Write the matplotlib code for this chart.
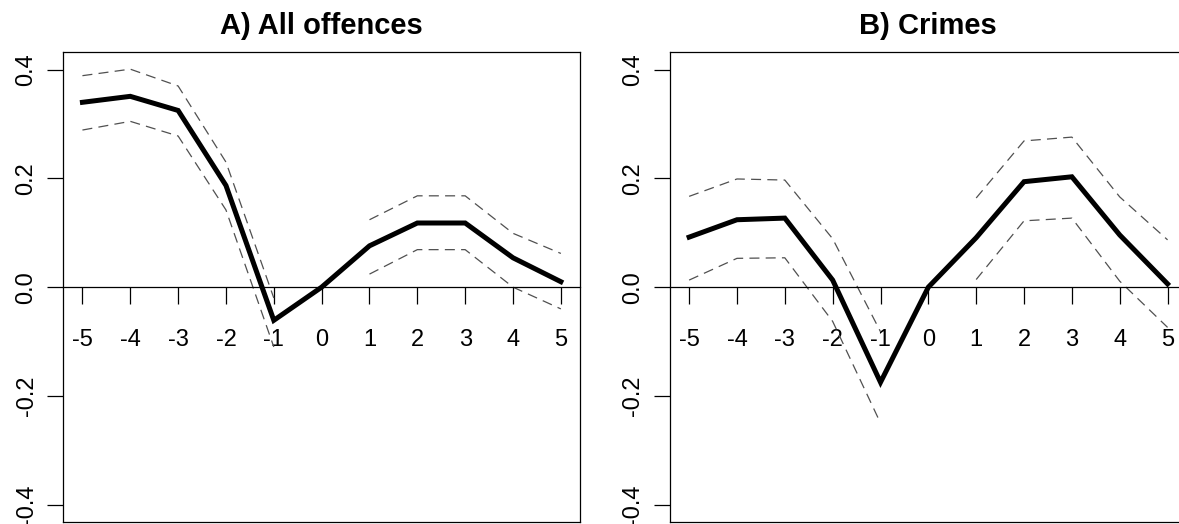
import numpy as np
import matplotlib
matplotlib.use("Agg")
import matplotlib.pyplot as plt

plt.rcParams.update({"font.family": ["Liberation Sans", "DejaVu Sans"],
                     "axes.unicode_minus": False})

# event time (years relative to the event); no CI at 0 (reference period)
x = [-5, -4, -3, -2, -1, 0, 1, 2, 3, 4, 5]

# A) All offences
a_est = [0.340, 0.351, 0.325, 0.187, -0.061, 0.0, 0.076, 0.118, 0.118, 0.054, 0.010]
a_hi = [0.389, 0.401, 0.370, 0.230, -0.020, np.nan, 0.124, 0.168, 0.168, 0.099, 0.062]
a_lo = [0.289, 0.305, 0.278, 0.142, -0.110, np.nan, 0.024, 0.069, 0.069, 0.000, -0.040]

# B) Crimes
b_est = [0.092, 0.124, 0.127, 0.013, -0.175, 0.0, 0.091, 0.194, 0.203, 0.096, 0.006]
b_hi = [0.167, 0.199, 0.197, 0.089, -0.082, np.nan, 0.164, 0.269, 0.276, 0.166, 0.087]
b_lo = [0.013, 0.053, 0.054, -0.063, -0.250, np.nan, 0.014, 0.122, 0.127, 0.011, -0.074]

YTICKS = [-0.4, -0.2, 0.0, 0.2, 0.4]
W, H = 1179, 524


def panel(ax, est, hi, lo, titulo):
    ax.plot(x, hi, color="#505050", lw=0.9, ls=(0, (8, 5)))
    ax.plot(x, lo, color="#505050", lw=0.9, ls=(0, (8, 5)))
    ax.plot(x, est, color="black", lw=3.6, solid_joinstyle="miter")
    ax.set_xlim(-5.4, 5.4)
    ax.set_ylim(-0.432, 0.432)
    ax.set_title(titulo, fontsize=21, fontweight="bold", pad=13)

    # eje x sobre y = 0, como en R (axis(1, pos=0))
    ax.spines["bottom"].set_position(("data", 0))
    ax.plot([0, 1], [0, 0], transform=ax.transAxes, color="black", lw=0.9, clip_on=False)
    for s in ax.spines.values():
        s.set_linewidth(0.9)
    ax.set_xticks(x)
    ax.set_xticklabels([str(v) for v in x])
    ax.set_yticks(YTICKS)
    ax.set_yticklabels([f"{v:.1f}" for v in YTICKS])
    ax.tick_params(axis="x", direction="out", length=12, width=0.9, pad=18, labelsize=17)
    ax.tick_params(axis="y", direction="out", length=11.5, width=0.9, pad=7,
                   labelsize=17, labelrotation=90)
    for lab in ax.get_yticklabels():
        lab.set_va("center")


fig = plt.figure(figsize=(W / 100, H / 100), dpi=100)
ax1 = fig.add_axes([63.3 / W, 2 / H, 516.7 / W, 469.7 / H])
ax2 = fig.add_axes([670 / W, 2 / H, 516.7 / W, 469.7 / H])

panel(ax1, a_est, a_hi, a_lo, "A) All offences")
panel(ax2, b_est, b_hi, b_lo, "B) Crimes")

fig.savefig("out.png", dpi=100)
